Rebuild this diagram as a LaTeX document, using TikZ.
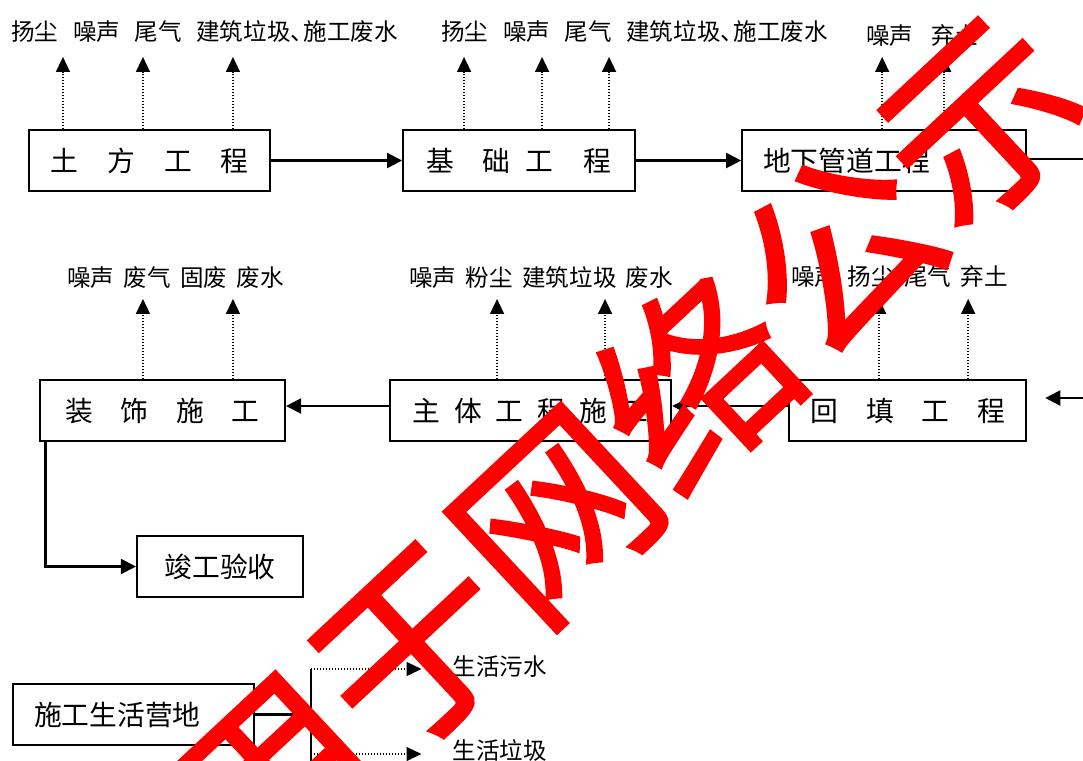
\documentclass[tikz,border=0pt]{standalone}
\usepackage{fontspec}
\setmainfont{Noto Sans CJK SC}
\newfontfamily\sealfont{Noto Sans CJK SC}[FakeBold=1.6]
\usetikzlibrary{positioning,arrows.meta,calc}

\tikzset{
  stage/.style={rectangle,draw,line width=1.2pt,minimum height=1.22cm,inner sep=0pt,font=\fontsize{15.8}{18}\selectfont},
  outlabel/.style={inner sep=0pt,anchor=west,font=\fontsize{13.4}{16}\selectfont},
  flow/.style={line width=1.2pt,-{Triangle[length=0.3cm,width=0.3cm]}},
  emit/.style={line width=0.8pt,dash pattern=on 0.8pt off 0.9pt,-{Triangle[length=0.3cm,width=0.28cm]}},
  seal/.style={text=red,inner sep=0pt,font=\sealfont\fontsize{110}{110}\selectfont}
}

\begin{document}
\begin{tikzpicture}
  \useasboundingbox (0,0) rectangle (21.66,-15.2);
  % first row of stages
  \node[stage,minimum width=4.82cm] (tufang) at (2.99,-3.21) {土\hspace{1.05em}方\hspace{1.05em}工\hspace{1.05em}程};
  \node[stage,minimum width=4.64cm,right=2.62cm of tufang] (jichu) {基\hspace{1em}础\hspace{0.55em}工\hspace{1.1em}程};
  \node[stage,text width=4.84cm,inner xsep=0.42cm,align=left,right=2.1cm of jichu] (dixia) {地下管道工程};
  % second row of stages
  \node[stage,minimum width=4.9cm] (zhuangshi) at (3.25,-8.21) {装\hspace{1em}饰\hspace{1em}施\hspace{1em}工};
  \node[stage,minimum width=5.62cm,right=2.06cm of zhuangshi] (zhuti) {主\hspace{0.5em}体\hspace{0.5em}工\hspace{0.5em}程\hspace{0.5em}施\hspace{0.5em}工};
  \node[stage,minimum width=4.74cm,right=2.32cm of zhuti] (huitian) {回\hspace{1em}填\hspace{1em}工\hspace{1em}程};
  \node[stage,minimum width=3.32cm] (jungong) at (4.4,-11.33) {竣工验收};
  \node[stage,text width=3.98cm,inner xsep=0.42cm,align=left] (yingdi) at (2.67,-14.29) {施工生活营地};

  % what each stage gives off
  \node[outlabel] (emitA) at (0.22,-0.63) {扬尘\hspace{0.62em}噪声\hspace{0.62em}尾气\hspace{0.62em}建筑垃圾、\kern-0.45em施工废水};
  \node[outlabel] (emitB) at (8.82,-0.63) {扬尘\hspace{0.62em}噪声\hspace{0.62em}尾气\hspace{0.62em}建筑垃圾、\kern-0.45em施工废水};
  \node[outlabel] (emitC) at (17.32,-0.72) {噪声\hspace{0.75em}弃土};
  \node[outlabel] (emitD) at (1.34,-5.56) {噪声\hspace{0.4em}废气\hspace{0.4em}固废\hspace{0.4em}废水};
  \node[outlabel] (emitE) at (8.18,-5.56) {噪声\hspace{0.4em}粉尘\hspace{0.4em}建筑垃圾\hspace{0.4em}废水};
  \node[outlabel] (emitF) at (15.82,-5.54) {噪声\hspace{0.4em}扬尘\hspace{0.4em}尾气\hspace{0.4em}弃土};
  \node[outlabel] (sewage) at (9.05,-13.34) {生活污水};
  \node[outlabel] (refuse) at (9.05,-15.0) {生活垃圾};

  \foreach \dx in {0.7,2.3,4.1}
    \draw[emit] ([xshift=\dx cm]tufang.north west) -- ++(0,1.44);
  \foreach \dx in {1.24,2.8,4.14}
    \draw[emit] ([xshift=\dx cm]jichu.north west) -- ++(0,1.44);
  \foreach \dx in {2.82,4.06}
    \draw[emit] ([xshift=\dx cm]dixia.north west) -- ++(0,1.44);
  \foreach \dx in {2.08,3.88}
    \draw[emit] ([xshift=\dx cm]zhuangshi.north west) -- ++(0,1.6);
  \foreach \dx in {2.16,4.32}
    \draw[emit] ([xshift=\dx cm]zhuti.north west) -- ++(0,1.6);
  \foreach \dx in {1.82,3.6}
    \draw[emit] ([xshift=\dx cm]huitian.north west) -- ++(0,1.6);

  % main flow
  \coordinate (outR) at (21.8,-3.18);
  \coordinate (inR) at (21.8,-7.96);
  \draw[flow] (tufang) -- (jichu);
  \draw[flow] (jichu) -- (dixia);
  \draw[line width=1.2pt] (dixia.east |- outR) -- (outR);
  \draw[flow] (inR) -- ([xshift=0.36cm]huitian.east |- inR);
  \draw[flow] ([yshift=0.09cm]huitian.west) -- ([yshift=0.09cm]zhuti.east);
  \draw[flow] ([yshift=0.09cm]zhuti.west) -- ([yshift=0.09cm]zhuangshi.east);
  \draw[flow] ([xshift=0.13cm]zhuangshi.south west) |- (jungong.west);

  % camp
  \coordinate (jTop) at (6.22,-13.38);
  \coordinate (jBot) at (6.22,-15.08);
  \draw[line width=1.2pt] (yingdi.east) -- (yingdi.east -| jTop);
  \draw[line width=1.2pt] (jTop) -- (6.22,-15.3);
  \draw[emit] (jTop) -- ([xshift=-0.62cm]sewage.west |- jTop);
  \draw[emit] (jBot) -- ([xshift=-0.62cm]refuse.west |- jBot);

  % stamp
  \node[seal,rotate=43] (mark) at (12.5,-8.95) {用于网络公示};
\end{tikzpicture}
\end{document}
